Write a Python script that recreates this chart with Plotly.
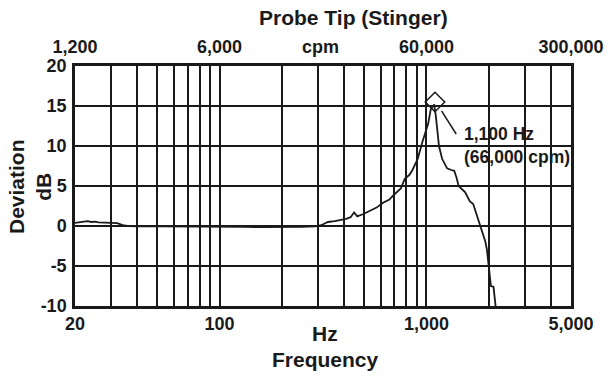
import math
import plotly.graph_objects as go

# ---- data ----
freq_hz = [20, 21, 22, 23, 24, 25, 26, 28, 30, 32, 34, 36, 40, 50, 60, 80, 100, 130, 160, 200, 250, 290,
           310, 334, 360, 409, 430, 447, 463, 496, 515, 545, 574, 617, 662, 690, 716, 752, 786, 828, 856,
           908, 956, 990, 1020, 1050, 1090, 1110, 1130, 1150, 1191, 1214, 1259, 1320, 1363, 1400, 1431,
           1540, 1620, 1683, 1786, 1925, 1960, 2000, 2050, 2110, 2160]
dev_db = [0.4, 0.45, 0.5, 0.6, 0.5, 0.55, 0.45, 0.45, 0.4, 0.35, 0.1, 0.0, -0.05, -0.05, -0.05, -0.05, -0.05,
          -0.1, -0.15, -0.15, -0.1, -0.05,
          0.1, 0.5, 0.6, 0.9, 1.1, 1.7, 1.2, 1.5, 1.7, 2.0, 2.3, 2.9, 3.3, 3.8, 4.2, 4.7, 5.9, 6.4, 7.0,
          8.4, 10.5, 11.7, 12.8, 14.6, 15.2, 13.8, 11.5, 10.0, 8.4, 8.0, 7.2, 7.0, 6.9, 6.0, 5.0,
          4.2, 3.1, 2.75, 0.6, -1.9, -2.9, -5.0, -7.5, -7.6, -10.0]

peak_hz = [1100]
peak_db = [15.5]
leader_hz = [1183, 1393]
leader_db = [14.4, 11.5]
peak_label = "1,100 Hz<br>(66,000 cpm)"

hz_grid = [20, 30, 40, 50, 60, 70, 80, 90, 100, 200, 300, 400, 500, 600, 700, 800, 900, 1000,
           2000, 3000, 4000, 5000]
hz_labeled = {20: "20", 100: "100", 1000: "1,000", 5000: "5,000"}
cpm_ticks = [1200, 6000, 60000, 300000]
cpm_labels = ["1,200", "6,000", "60,000", "300,000"]
db_ticks = [-10, -5, 0, 5, 10, 15, 20]
db_labels = ["-10", "-5", "0", "5", "10", "15", "20"]

FONT = "Liberation Sans, Arial, sans-serif"
INK = "#1a1a1a"

fig = go.Figure()
fig.add_trace(go.Scatter(x=freq_hz, y=dev_db, mode="lines",
                         line=dict(color=INK, width=1.8), showlegend=False, hoverinfo="skip"))
fig.add_trace(go.Scatter(x=peak_hz, y=peak_db, mode="markers",
                         marker=dict(symbol="diamond-open", size=15, color=INK, line=dict(width=1.5, color=INK)),
                         showlegend=False, hoverinfo="skip"))
fig.add_trace(go.Scatter(x=leader_hz, y=leader_db, mode="lines",
                         line=dict(color=INK, width=1.5), showlegend=False, hoverinfo="skip"))
# helper trace for the cpm axis
fig.add_trace(go.Scatter(x=[cpm_ticks[0], cpm_ticks[-1]], y=[None, None], xaxis="x2",
                         mode="lines", showlegend=False, hoverinfo="skip"))

fig.add_annotation(x=math.log10(1480), y=10.1, xref="x", yref="y", text=peak_label,
                   showarrow=False, xanchor="left", yanchor="middle", align="left",
                   font=dict(family=FONT, size=17.5, color=INK, weight="bold"))

tickfont = dict(family=FONT, size=18, color=INK, weight="bold")
titlefont = dict(family=FONT, size=21, color=INK, weight="bold")

fig.update_layout(
    width=616, height=376,
    margin=dict(l=75, r=34, t=66, b=70),
    paper_bgcolor="white", plot_bgcolor="white",
    xaxis=dict(type="log", range=[math.log10(20), math.log10(5000)],
               tickmode="array", tickvals=hz_grid,
               ticktext=[hz_labeled.get(v, "") for v in hz_grid],
               showgrid=True, gridcolor=INK, gridwidth=1.7,
               showline=True, linecolor=INK, linewidth=2.5, mirror=True,
               ticks="", tickfont=tickfont, zeroline=False, ticklabelstandoff=0),
    xaxis2=dict(type="log", range=[math.log10(1200), math.log10(300000)],
                overlaying="x", side="top", anchor="y",
                tickmode="array", tickvals=cpm_ticks, ticktext=cpm_labels,
                showgrid=False, showline=False, ticks="", tickfont=tickfont, ticklabelstandoff=8),
    yaxis=dict(range=[-10, 20], tickmode="array", tickvals=db_ticks, ticktext=db_labels,
               showgrid=True, gridcolor=INK, gridwidth=1.7,
               showline=True, linecolor=INK, linewidth=2.5, mirror=True,
               ticks="", tickfont=tickfont, zeroline=False, ticklabelstandoff=2),
    annotations=list(fig.layout.annotations) + [
        dict(text="Probe Tip (Stinger)", x=(360 - 75) / 507, y=1 + (66 - 17) / 240,
             xref="paper", yref="paper", showarrow=False, xanchor="center", yanchor="middle",
             font=titlefont),
        dict(text="cpm", x=(326 - 75) / 507, y=1 + (66 - 47.5) / 240,
             xref="paper", yref="paper", showarrow=False, xanchor="center", yanchor="middle",
             font=tickfont),
        dict(text="Hz", x=(331 - 75) / 507, y=-(333 - 306) / 240,
             xref="paper", yref="paper", showarrow=False, xanchor="center", yanchor="middle",
             font=titlefont),
        dict(text="Frequency", x=(331 - 75) / 507, y=-(359 - 306) / 240,
             xref="paper", yref="paper", showarrow=False, xanchor="center", yanchor="middle",
             font=titlefont),
        dict(text="Deviation<br>dB", x=(29 - 75) / 507, y=0.5, textangle=-90,
             xref="paper", yref="paper", showarrow=False, xanchor="center", yanchor="middle",
             font=titlefont),
    ],
)

fig.write_html("out.html")
